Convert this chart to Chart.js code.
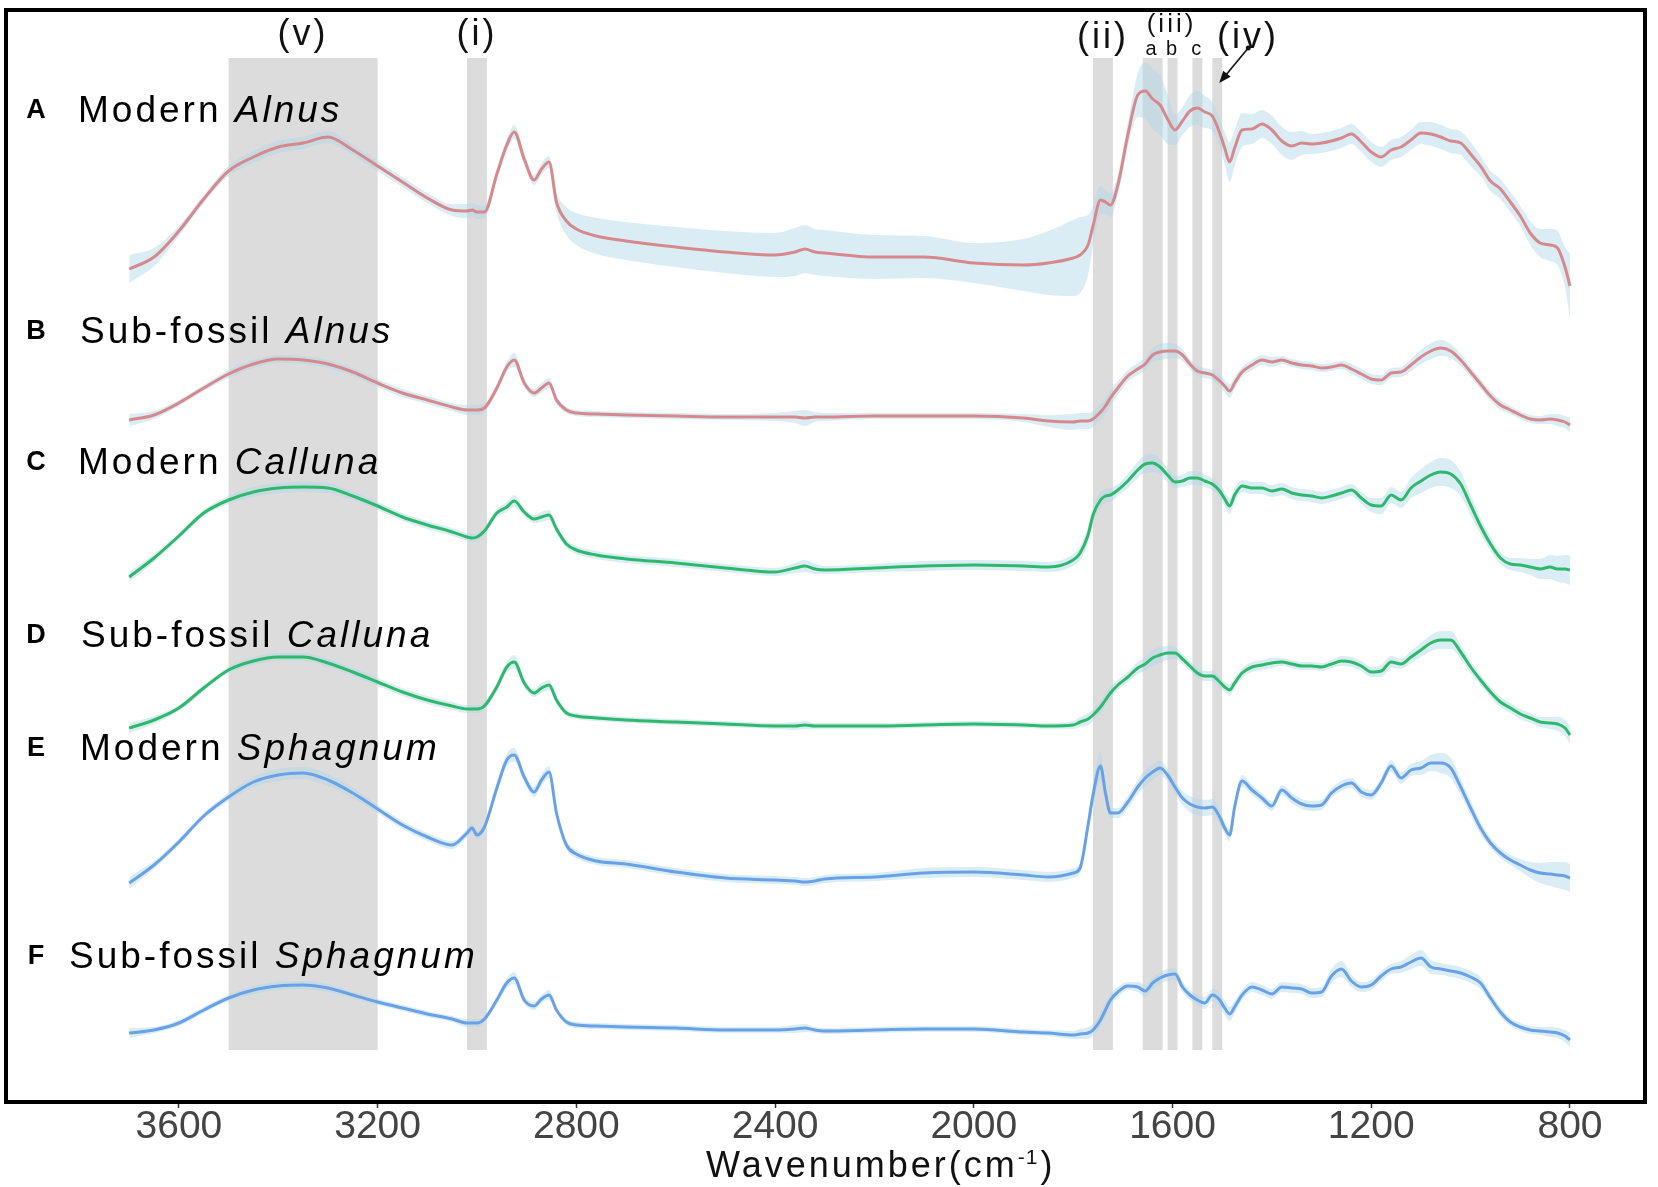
<!DOCTYPE html>
<html>
<head>
<meta charset="utf-8">
<style>
  html, body { margin: 0; padding: 0; background: #fff; }
  canvas { display: block; }
</style>
</head>
<body>
<canvas id="myChart" width="1658" height="1187"></canvas>

<script src="https://cdn.jsdelivr.net/npm/chart.js"></script>
<script>

// wavenumber grid (cm-1), shared by every spectrum
const wavenumbers = [
  3700, 3650, 3600, 3550, 3500, 3450, 3400, 3350, 3300, 3250,
  3200, 3150, 3100, 3050, 3020, 3010, 3000, 2985, 2960, 2940,
  2925, 2905, 2885, 2870, 2855, 2840, 2820, 2800, 2760, 2700,
  2600, 2500, 2400, 2360, 2340, 2320, 2300, 2200, 2100, 2000,
  1900, 1850, 1800, 1786, 1770, 1760, 1745, 1735, 1725, 1710,
  1690, 1670, 1655, 1640, 1625, 1610, 1595, 1580, 1565, 1550,
  1535, 1520, 1505, 1495, 1485, 1475, 1460, 1440, 1420, 1400,
  1380, 1360, 1340, 1320, 1300, 1280, 1260, 1240, 1220, 1200,
  1180, 1160, 1140, 1120, 1100, 1080, 1060, 1040, 1020, 1000,
  980, 960, 940, 920, 900, 880, 860, 840, 825, 810,
  800
];

// mean absorbance (offset) and spread, one pair per sample group
const modernAlnus = [
  8.31, 8.43, 8.69, 9.01, 9.29, 9.43, 9.53, 9.57, 9.63, 9.50,
  9.34, 9.18, 9.02, 8.90, 8.89, 8.90, 8.88, 8.88, 9.26, 9.55,
  9.68, 9.41, 9.20, 9.31, 9.38, 8.98, 8.79, 8.71, 8.64, 8.59,
  8.53, 8.48, 8.45, 8.48, 8.51, 8.48, 8.47, 8.43, 8.43, 8.37,
  8.35, 8.37, 8.42, 8.45, 8.55, 8.74, 9.00, 8.98, 8.95, 9.15,
  9.65, 10.05, 10.09, 10.01, 9.95, 9.81, 9.70, 9.79, 9.89, 9.92,
  9.88, 9.84, 9.67, 9.52, 9.38, 9.52, 9.70, 9.71, 9.76, 9.70,
  9.59, 9.54, 9.57, 9.56, 9.57, 9.59, 9.62, 9.66, 9.58, 9.48,
  9.43, 9.50, 9.53, 9.60, 9.67, 9.66, 9.63, 9.59, 9.57, 9.46,
  9.34, 9.19, 9.11, 8.98, 8.84, 8.67, 8.57, 8.55, 8.52, 8.33,
  8.14
];
const modernAlnusSd = [
  0.14, 0.09, 0.05, 0.04, 0.05, 0.06, 0.06, 0.06, 0.06, 0.05,
  0.05, 0.05, 0.05, 0.06, 0.07, 0.07, 0.07, 0.06, 0.05, 0.06,
  0.07, 0.05, 0.05, 0.06, 0.06, 0.10, 0.14, 0.16, 0.18, 0.19,
  0.20, 0.21, 0.22, 0.24, 0.24, 0.23, 0.23, 0.22, 0.21, 0.20,
  0.26, 0.32, 0.38, 0.38, 0.30, 0.20, 0.14, 0.12, 0.12, 0.10,
  0.12, 0.22, 0.28, 0.30, 0.30, 0.25, 0.15, 0.14, 0.16, 0.17,
  0.16, 0.14, 0.14, 0.16, 0.20, 0.18, 0.17, 0.15, 0.14, 0.14,
  0.14, 0.14, 0.12, 0.10, 0.10, 0.10, 0.10, 0.10, 0.10, 0.10,
  0.10, 0.10, 0.10, 0.10, 0.11, 0.12, 0.12, 0.12, 0.12, 0.12,
  0.10, 0.10, 0.10, 0.10, 0.10, 0.12, 0.14, 0.16, 0.17, 0.20,
  0.32
];

const subfossilAlnus = [
  6.80, 6.85, 6.97, 7.12, 7.26, 7.36, 7.41, 7.40, 7.36, 7.28,
  7.17, 7.07, 7.00, 6.93, 6.90, 6.90, 6.90, 6.92, 7.12, 7.33,
  7.40, 7.17, 7.07, 7.12, 7.17, 7.00, 6.90, 6.87, 6.86, 6.85,
  6.84, 6.83, 6.83, 6.83, 6.82, 6.83, 6.83, 6.84, 6.84, 6.84,
  6.82, 6.79, 6.78, 6.79, 6.79, 6.81, 6.88, 6.94, 7.02, 7.12,
  7.24, 7.31, 7.36, 7.45, 7.48, 7.49, 7.49, 7.45, 7.36, 7.29,
  7.27, 7.25, 7.19, 7.14, 7.09, 7.17, 7.28, 7.35, 7.40, 7.38,
  7.40, 7.37, 7.35, 7.34, 7.32, 7.33, 7.35, 7.31, 7.26, 7.21,
  7.20, 7.27, 7.28, 7.35, 7.43, 7.49, 7.52, 7.49, 7.40, 7.28,
  7.16, 7.04, 6.95, 6.90, 6.85, 6.81, 6.80, 6.81, 6.80, 6.78,
  6.75
];
const subfossilAlnusSd = [
  0.06, 0.04, 0.03, 0.03, 0.04, 0.04, 0.04, 0.04, 0.04, 0.04,
  0.04, 0.04, 0.04, 0.04, 0.05, 0.05, 0.05, 0.04, 0.04, 0.05,
  0.07, 0.04, 0.04, 0.05, 0.05, 0.04, 0.03, 0.03, 0.03, 0.03,
  0.03, 0.03, 0.04, 0.06, 0.08, 0.05, 0.04, 0.03, 0.03, 0.03,
  0.04, 0.06, 0.08, 0.08, 0.08, 0.08, 0.08, 0.08, 0.08, 0.07,
  0.06, 0.06, 0.06, 0.07, 0.08, 0.08, 0.07, 0.06, 0.05, 0.05,
  0.05, 0.05, 0.06, 0.06, 0.07, 0.06, 0.05, 0.05, 0.05, 0.05,
  0.04, 0.04, 0.04, 0.04, 0.04, 0.04, 0.04, 0.05, 0.05, 0.05,
  0.05, 0.05, 0.05, 0.06, 0.07, 0.08, 0.08, 0.07, 0.06, 0.05,
  0.05, 0.05, 0.05, 0.04, 0.04, 0.04, 0.04, 0.05, 0.06, 0.06,
  0.07
];

const modernCalluna = [
  5.23, 5.42, 5.64, 5.87, 6.00, 6.08, 6.12, 6.13, 6.12, 6.04,
  5.94, 5.83, 5.75, 5.68, 5.63, 5.62, 5.63, 5.69, 5.87, 5.93,
  5.99, 5.88, 5.81, 5.83, 5.85, 5.71, 5.56, 5.50, 5.45, 5.41,
  5.37, 5.32, 5.28, 5.32, 5.34, 5.31, 5.30, 5.32, 5.34, 5.35,
  5.34, 5.33, 5.40, 5.47, 5.65, 5.85, 6.00, 6.04, 6.05, 6.10,
  6.19, 6.30, 6.36, 6.37, 6.33, 6.25, 6.18, 6.19, 6.22, 6.22,
  6.19, 6.16, 6.09, 6.01, 5.94, 6.05, 6.14, 6.12, 6.12, 6.09,
  6.11, 6.07, 6.05, 6.04, 6.02, 6.04, 6.07, 6.10, 6.02, 5.95,
  5.94, 6.05, 6.00, 6.12, 6.19, 6.25, 6.28, 6.26, 6.16, 5.95,
  5.74, 5.56, 5.42, 5.36, 5.35, 5.33, 5.31, 5.33, 5.31, 5.31,
  5.30
];
const modernCallunaSd = [
  0.05, 0.04, 0.03, 0.03, 0.04, 0.05, 0.05, 0.05, 0.05, 0.04,
  0.04, 0.04, 0.04, 0.04, 0.04, 0.04, 0.04, 0.04, 0.04, 0.05,
  0.06, 0.04, 0.04, 0.05, 0.05, 0.04, 0.04, 0.04, 0.04, 0.04,
  0.04, 0.04, 0.04, 0.05, 0.06, 0.05, 0.04, 0.04, 0.05, 0.05,
  0.05, 0.05, 0.06, 0.07, 0.08, 0.08, 0.08, 0.07, 0.07, 0.06,
  0.07, 0.08, 0.09, 0.09, 0.08, 0.07, 0.06, 0.06, 0.07, 0.07,
  0.06, 0.06, 0.06, 0.07, 0.08, 0.07, 0.06, 0.06, 0.06, 0.06,
  0.06, 0.06, 0.06, 0.06, 0.06, 0.06, 0.06, 0.06, 0.06, 0.07,
  0.08, 0.08, 0.08, 0.10, 0.12, 0.13, 0.14, 0.14, 0.12, 0.10,
  0.08, 0.07, 0.06, 0.06, 0.07, 0.08, 0.10, 0.12, 0.13, 0.14,
  0.15
];

const subfossilCalluna = [
  3.72, 3.80, 3.92, 4.12, 4.30, 4.39, 4.43, 4.43, 4.37, 4.28,
  4.18, 4.08, 4.00, 3.94, 3.91, 3.91, 3.91, 3.94, 4.13, 4.33,
  4.38, 4.17, 4.07, 4.12, 4.15, 4.00, 3.87, 3.84, 3.82, 3.80,
  3.78, 3.76, 3.74, 3.74, 3.75, 3.74, 3.74, 3.74, 3.75, 3.76,
  3.75, 3.74, 3.75, 3.78, 3.81, 3.85, 3.93, 4.00, 4.07, 4.15,
  4.23, 4.32, 4.36, 4.42, 4.45, 4.47, 4.47, 4.41, 4.34, 4.27,
  4.24, 4.24, 4.18, 4.13, 4.10, 4.17, 4.27, 4.33, 4.35, 4.37,
  4.38, 4.36, 4.34, 4.34, 4.33, 4.36, 4.39, 4.38, 4.34, 4.28,
  4.29, 4.38, 4.36, 4.43, 4.50, 4.57, 4.60, 4.60, 4.48, 4.33,
  4.20, 4.08, 3.98, 3.92, 3.86, 3.82, 3.78, 3.77, 3.76, 3.72,
  3.65
];
const subfossilCallunaSd = [
  0.05, 0.04, 0.03, 0.03, 0.03, 0.04, 0.04, 0.04, 0.04, 0.04,
  0.04, 0.04, 0.04, 0.04, 0.04, 0.04, 0.04, 0.04, 0.04, 0.05,
  0.07, 0.04, 0.04, 0.05, 0.05, 0.04, 0.03, 0.03, 0.03, 0.03,
  0.03, 0.03, 0.03, 0.04, 0.04, 0.03, 0.03, 0.03, 0.03, 0.03,
  0.03, 0.03, 0.04, 0.05, 0.06, 0.06, 0.06, 0.06, 0.06, 0.05,
  0.05, 0.06, 0.07, 0.08, 0.08, 0.07, 0.06, 0.05, 0.05, 0.05,
  0.05, 0.05, 0.05, 0.05, 0.06, 0.05, 0.05, 0.05, 0.05, 0.05,
  0.04, 0.04, 0.04, 0.04, 0.04, 0.04, 0.05, 0.05, 0.05, 0.05,
  0.06, 0.06, 0.05, 0.06, 0.07, 0.08, 0.09, 0.09, 0.07, 0.06,
  0.05, 0.05, 0.05, 0.05, 0.05, 0.05, 0.05, 0.06, 0.07, 0.08,
  0.09
];

const modernSphagnum = [
  2.17, 2.35, 2.58, 2.84, 3.03, 3.18, 3.25, 3.27, 3.20, 3.07,
  2.91, 2.75, 2.63, 2.55, 2.67, 2.72, 2.65, 2.73, 3.12, 3.40,
  3.45, 3.23, 3.08, 3.20, 3.28, 2.87, 2.55, 2.46, 2.39, 2.36,
  2.28, 2.22, 2.20, 2.19, 2.18, 2.19, 2.21, 2.23, 2.27, 2.28,
  2.25, 2.23, 2.27, 2.32, 2.75, 3.05, 3.34, 3.07, 2.87, 2.87,
  2.98, 3.13, 3.22, 3.28, 3.32, 3.25, 3.13, 3.02, 2.96, 2.93,
  2.92, 2.93, 2.83, 2.72, 2.65, 2.93, 3.19, 3.10, 3.02, 2.94,
  3.10, 3.02, 2.96, 2.94, 2.95, 3.07, 3.14, 3.17, 3.08, 3.05,
  3.17, 3.34, 3.22, 3.30, 3.32, 3.37, 3.37, 3.32, 3.13, 2.92,
  2.72, 2.57, 2.47, 2.40, 2.35, 2.30, 2.27, 2.26, 2.25, 2.24,
  2.22
];
const modernSphagnumSd = [
  0.06, 0.04, 0.03, 0.03, 0.04, 0.05, 0.06, 0.06, 0.06, 0.05,
  0.04, 0.04, 0.04, 0.04, 0.04, 0.04, 0.04, 0.04, 0.05, 0.06,
  0.07, 0.05, 0.05, 0.06, 0.06, 0.05, 0.04, 0.04, 0.04, 0.04,
  0.04, 0.04, 0.04, 0.04, 0.04, 0.04, 0.04, 0.04, 0.05, 0.05,
  0.05, 0.05, 0.05, 0.05, 0.06, 0.10, 0.14, 0.08, 0.05, 0.05,
  0.06, 0.07, 0.08, 0.08, 0.07, 0.06, 0.06, 0.07, 0.08, 0.08,
  0.08, 0.08, 0.07, 0.06, 0.06, 0.06, 0.06, 0.05, 0.05, 0.05,
  0.05, 0.05, 0.05, 0.05, 0.05, 0.05, 0.05, 0.05, 0.05, 0.05,
  0.05, 0.06, 0.06, 0.06, 0.07, 0.08, 0.10, 0.10, 0.08, 0.07,
  0.06, 0.05, 0.05, 0.05, 0.06, 0.08, 0.10, 0.12, 0.13, 0.14,
  0.14
];

const subfossilSphagnum = [
  0.67, 0.70, 0.77, 0.90, 1.02, 1.10, 1.14, 1.15, 1.12, 1.05,
  0.98, 0.92, 0.86, 0.81, 0.77, 0.77, 0.77, 0.81, 1.00, 1.17,
  1.22, 1.00, 0.94, 1.01, 1.05, 0.90, 0.78, 0.75, 0.74, 0.73,
  0.72, 0.70, 0.70, 0.71, 0.72, 0.70, 0.69, 0.70, 0.71, 0.71,
  0.68, 0.67, 0.65, 0.66, 0.67, 0.70, 0.80, 0.90, 1.00, 1.08,
  1.14, 1.13, 1.09, 1.17, 1.22, 1.25, 1.26, 1.13, 1.05, 1.00,
  0.97, 1.05, 1.00, 0.92, 0.86, 0.93, 1.05, 1.13, 1.10, 1.06,
  1.13, 1.12, 1.11, 1.07, 1.08, 1.24, 1.31, 1.19, 1.13, 1.15,
  1.24, 1.31, 1.33, 1.38, 1.42, 1.33, 1.31, 1.29, 1.27, 1.23,
  1.17, 1.02, 0.88, 0.78, 0.73, 0.70, 0.69, 0.68, 0.67, 0.64,
  0.60
];
const subfossilSphagnumSd = [
  0.05, 0.03, 0.03, 0.03, 0.03, 0.04, 0.04, 0.04, 0.04, 0.03,
  0.03, 0.03, 0.03, 0.03, 0.04, 0.04, 0.04, 0.03, 0.04, 0.05,
  0.06, 0.04, 0.04, 0.04, 0.05, 0.03, 0.03, 0.03, 0.03, 0.03,
  0.03, 0.03, 0.03, 0.04, 0.04, 0.03, 0.03, 0.03, 0.03, 0.03,
  0.03, 0.03, 0.04, 0.05, 0.06, 0.06, 0.07, 0.07, 0.06, 0.05,
  0.04, 0.05, 0.06, 0.06, 0.06, 0.06, 0.06, 0.05, 0.05, 0.05,
  0.06, 0.06, 0.07, 0.07, 0.07, 0.06, 0.05, 0.05, 0.05, 0.05,
  0.05, 0.05, 0.05, 0.05, 0.05, 0.07, 0.08, 0.06, 0.05, 0.05,
  0.05, 0.05, 0.06, 0.07, 0.08, 0.07, 0.06, 0.06, 0.06, 0.06,
  0.06, 0.05, 0.05, 0.04, 0.04, 0.04, 0.04, 0.05, 0.05, 0.06,
  0.07
];

const tickValues = [3600, 3200, 2800, 2400, 2000, 1600, 1200, 800];

// highlighted absorption regions (cm-1)
const bands = [
  [3500, 3200], [3020, 2980], [1760, 1720],
  [1660, 1620], [1610, 1590], [1560, 1540], [1520, 1500]
];
const bandNames = [
  { text: '(v)', at: 3350, size: 36, base: 45 },
  { text: '(i)', at: 3000, size: 36, base: 45 },
  { text: '(ii)', at: 1740, size: 36, base: 48 },
  { text: '(iii)', at: 1602, size: 26, base: 32 },
  { text: 'a', at: 1643, size: 20, base: 55 },
  { text: 'b', at: 1602, size: 20, base: 55 },
  { text: 'c', at: 1552, size: 20, base: 55 },
  { text: '(iv)', at: 1448, size: 36, base: 48 }
];

const rose = 'rgb(214, 137, 141)';
const green = 'rgb(46, 184, 108)';
const blue = 'rgb(104, 161, 230)';
const ribbonFill = 'rgba(173, 216, 230, 0.45)';
const fontFamily = '"Liberation Sans", Arial, sans-serif';

const curves = [
  { letter: 'A', name: 'Modern ', genus: 'Alnus', mean: modernAlnus, sd: modernAlnusSd, color: rose, tx: 78, base: 122 },
  { letter: 'B', name: 'Sub-fossil ', genus: 'Alnus', mean: subfossilAlnus, sd: subfossilAlnusSd, color: rose, tx: 80, base: 343 },
  { letter: 'C', name: 'Modern ', genus: 'Calluna', mean: modernCalluna, sd: modernCallunaSd, color: green, tx: 78, base: 474 },
  { letter: 'D', name: 'Sub-fossil ', genus: 'Calluna', mean: subfossilCalluna, sd: subfossilCallunaSd, color: green, tx: 81, base: 647 },
  { letter: 'E', name: 'Modern ', genus: 'Sphagnum', mean: modernSphagnum, sd: modernSphagnumSd, color: blue, tx: 80, base: 760 },
  { letter: 'F', name: 'Sub-fossil ', genus: 'Sphagnum', mean: subfossilSphagnum, sd: subfossilSphagnumSd, color: blue, tx: 69, base: 968 }
];

const toPoints = arr => arr.map((v, i) => ({ x: wavenumbers[i], y: v }));

const datasets = [];
curves.forEach(c => {
  const upper = c.mean.map((v, i) => v + c.sd[i]);
  const lower = c.mean.map((v, i) => v - c.sd[i]);
  datasets.push({
    data: toPoints(upper), fill: '+1', backgroundColor: ribbonFill,
    borderColor: 'rgba(0,0,0,0)', borderWidth: 0, pointRadius: 0, order: 2,
    cubicInterpolationMode: 'monotone'
  });
  datasets.push({
    data: toPoints(lower), fill: false,
    borderColor: 'rgba(0,0,0,0)', borderWidth: 0, pointRadius: 0, order: 2,
    cubicInterpolationMode: 'monotone'
  });
  datasets.push({
    data: toPoints(c.mean), fill: false, borderColor: c.color, borderWidth: 3,
    pointRadius: 0, order: 1, cubicInterpolationMode: 'monotone'
  });
});

const decorations = {
  id: 'decorations',
  beforeDraw(chart) {
    const { ctx, scales: { x, y } } = chart;
    ctx.save();
    ctx.fillStyle = '#fff';
    ctx.fillRect(0, 0, chart.width, chart.height);
    // grey bands
    ctx.fillStyle = '#dcdcdc';
    const top = y.getPixelForValue(10.42);
    const bottom = y.getPixelForValue(0.50);
    bands.forEach(([a, b]) => {
      const x1 = x.getPixelForValue(a);
      const x2 = x.getPixelForValue(b);
      ctx.fillRect(x1, top, x2 - x1, bottom - top);
    });
    ctx.restore();
  },
  afterDraw(chart) {
    const { ctx, chartArea, scales: { x } } = chart;
    ctx.save();
    // frame
    ctx.strokeStyle = '#000';
    ctx.lineWidth = 4;
    ctx.strokeRect(chartArea.left, chartArea.top, chartArea.right - chartArea.left, chartArea.bottom - chartArea.top);

    // band labels
    ctx.fillStyle = '#111';
    ctx.textAlign = 'center';
    ctx.textBaseline = 'alphabetic';
    bandNames.forEach(b => {
      ctx.font = b.size + 'px ' + fontFamily;
      ctx.letterSpacing = b.size > 24 ? '3px' : '0px';
      ctx.fillText(b.text, x.getPixelForValue(b.at), b.base);
    });
    ctx.letterSpacing = '0px';

    // arrow from (iv) to its band
    const tipX = x.getPixelForValue(1510) + 2;
    const fromX = tipX + 29, fromY = 48, tipY = 83;
    ctx.strokeStyle = '#111';
    ctx.lineWidth = 1.6;
    ctx.beginPath();
    ctx.moveTo(fromX, fromY);
    ctx.lineTo(tipX + 5, tipY - 6);
    ctx.stroke();
    ctx.beginPath();
    ctx.arc(fromX, fromY, 2.5, 0, Math.PI * 2);
    ctx.fill();
    const ang = Math.atan2(tipY - fromY, tipX - fromX);
    ctx.beginPath();
    ctx.moveTo(tipX, tipY);
    ctx.lineTo(tipX - 13 * Math.cos(ang - 0.38), tipY - 13 * Math.sin(ang - 0.38));
    ctx.lineTo(tipX - 13 * Math.cos(ang + 0.38), tipY - 13 * Math.sin(ang + 0.38));
    ctx.closePath();
    ctx.fill();

    // curve labels
    curves.forEach(c => {
      ctx.fillStyle = '#000';
      ctx.textAlign = 'center';
      ctx.letterSpacing = '0px';
      ctx.font = 'bold 27px ' + fontFamily;
      ctx.fillText(c.letter, 36, c.base - 4);
      ctx.textAlign = 'left';
      ctx.letterSpacing = '3px';
      ctx.font = '37px ' + fontFamily;
      ctx.fillText(c.name, c.tx, c.base);
      const w = ctx.measureText(c.name).width;
      ctx.font = 'italic 37px ' + fontFamily;
      ctx.fillText(c.genus, c.tx + w, c.base);
    });

    // axis title with superscript
    ctx.fillStyle = '#111';
    ctx.textAlign = 'left';
    ctx.letterSpacing = '3px';
    ctx.font = '36px ' + fontFamily;
    let tx = 706;
    const tb = 1177;
    ctx.fillText('Wavenumber(cm', tx, tb);
    tx += ctx.measureText('Wavenumber(cm').width;
    ctx.font = '21px ' + fontFamily;
    ctx.letterSpacing = '1px';
    ctx.fillText('-1', tx, tb - 13);
    tx += ctx.measureText('-1').width + 2;
    ctx.font = '36px ' + fontFamily;
    ctx.letterSpacing = '0px';
    ctx.fillText(')', tx, tb);
    ctx.restore();
  }
};

const chart = new Chart(document.getElementById('myChart'), {
  type: 'line',
  data: { datasets: datasets },
  options: {
    responsive: false,
    devicePixelRatio: 1,
    animation: false,
    layout: { padding: { left: 6, right: 13, top: 10, bottom: 0 } },
    plugins: {
      legend: { display: false },
      tooltip: { enabled: false },
      filler: { drawTime: 'beforeDatasetsDraw' }
    },
    scales: {
      x: {
        type: 'linear',
        reverse: true,
        min: 649,
        max: 3948,
        afterBuildTicks: s => { s.ticks = tickValues.map(v => ({ value: v })); },
        afterFit: s => { s.height = 85; },
        ticks: {
          color: '#444',
          font: { family: fontFamily, size: 39, lineHeight: 1 },
          padding: 0,
          maxRotation: 0,
          autoSkip: false,
          callback: v => String(v)
        },
        grid: { drawOnChartArea: false, drawTicks: true, tickLength: 6, tickColor: '#333', tickWidth: 1.5 },
        border: { display: false }
      },
      y: { display: false, min: -0.02, max: 10.90 }
    }
  },
  plugins: [decorations]
});

</script>
</body>
</html>
